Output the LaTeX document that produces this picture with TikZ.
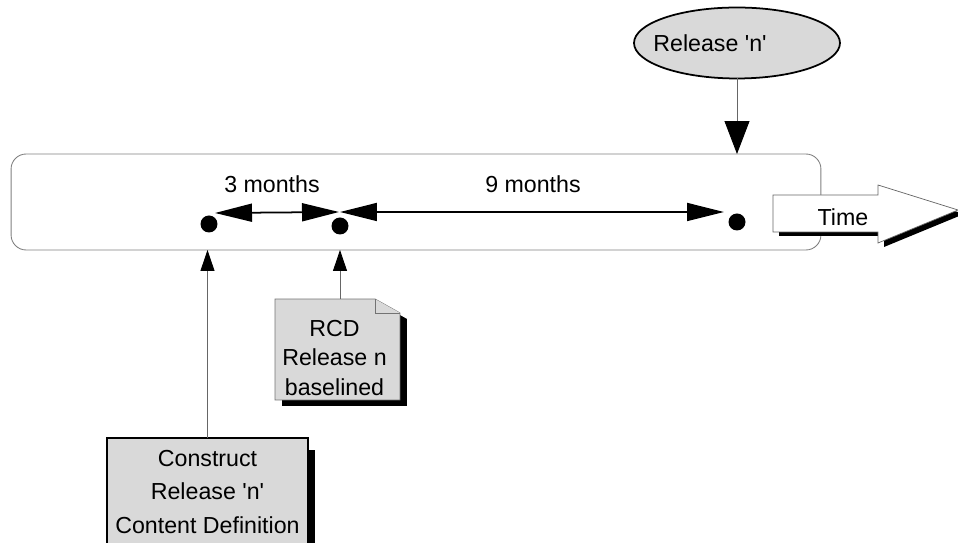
\documentclass[tikz,border=0pt]{standalone}
\usepackage{fontspec}
\setmainfont{Liberation Sans}
\usetikzlibrary{shapes,arrows,positioning,calc,arrows.meta}

\begin{document}
\begin{tikzpicture}[x=0.02cm, y=-0.02cm, outer sep=0pt,
        txt/.style={font=\fontsize{13.2}{18.8}\selectfont},
        dot/.style={circle, fill=black, minimum size=0.34cm, inner sep=0pt},
        span/.style={line width=1pt, {Triangle[length=0.74cm,width=0.36cm]}-{Triangle[length=0.74cm,width=0.36cm]}},
        feed/.style={draw=black!60, line width=0.5pt, -{Triangle[length=0.42cm,width=0.28cm,color=black]}},
        bigfeed/.style={draw=black!60, line width=0.5pt, -{Triangle[length=0.66cm,width=0.5cm,color=black]}},
        paper/.style={fill=gray!30}]
        \useasboundingbox (0,0) rectangle (958,543);

        \node [draw=black!50, line width=0.5pt, rectangle, rounded corners=0.3cm, minimum width=16.2cm, minimum height=1.92cm] (band) at (416,202) {};

        \fill [black] (779,199) -- (884,199) -- (884,189) -- (964,214) -- (884,247) -- (884,236) -- (779,236) -- cycle;
        \draw [draw=black!60, line width=0.4pt, fill=white] (773,195) -- (878,195) -- (878,185) -- (958,210) -- (878,243) -- (878,232) -- (773,232) -- cycle;
        \node [txt, anchor=base] (time) at (843,226) {Time};

        \node [dot] (d1) at (209,224) {};
        \node [dot] (d2) at (340,226) {};
        \node [dot] (d3) at (737,222) {};
        \draw [span] ($(d1)+(6,-11)$) -- ($(d2)+(-1,-14)$);
        \draw [span] ($(d2)+(0,-14)$) -- ($(d3)+(-13,-10)$);
        \node [txt, anchor=base] (three) at (272,193) {3 months};
        \node [txt, anchor=base] (nine) at (533,193) {9 months};

        \node [ellipse, draw, line width=1pt, paper, minimum width=4.12cm, minimum height=1.42cm, label={[txt, xshift=-0.54cm]center:Release \textquotesingle n\textquotesingle}] (rel) at (737,43) {};
        \draw [bigfeed] (rel.south) -- (rel.south |- band.north);

        \node [rectangle, minimum width=2.5cm, minimum height=2.02cm, inner sep=0pt] (rcd) at (337.5,349.5) {};
        \fill [black, transform canvas={xshift=0.14cm, yshift=-0.12cm}] (rcd.north west) -- ([xshift=-0.5cm]rcd.north east) -- ([yshift=-0.28cm]rcd.north east) -- (rcd.south east) -- (rcd.south west) -- cycle;
        \draw [draw=black!55, line width=0.5pt, paper] (rcd.north west) -- ([xshift=-0.5cm]rcd.north east) -- ([yshift=-0.28cm]rcd.north east) -- (rcd.south east) -- (rcd.south west) -- cycle;
        \draw [draw=black!55, line width=0.5pt, paper] ([xshift=-0.5cm]rcd.north east) -- ([xshift=-0.5cm,yshift=-0.28cm]rcd.north east) -- ([yshift=-0.28cm]rcd.north east);
        \node [txt, font=\fontsize{13.2}{17}\selectfont, align=center, yshift=-0.17cm, xshift=-0.06cm] (rcdtext) at (rcd.center) {RCD\\Release n\\baselined};
        \draw [feed] (d2 |- rcd.north) -- (d2 |- band.south);

        \node [draw=black, line width=0.8pt, rectangle, paper, minimum width=4.02cm, minimum height=2.16cm, align=center, txt] (cons) at (207.5,492) {Construct\\Release \textquotesingle n\textquotesingle\\Content Definition};
        \fill [black] ([yshift=-0.24cm]cons.north east) rectangle ([xshift=0.14cm,yshift=-0.14cm]cons.south east);
        \draw [feed] (cons.north) -- (cons.north |- band.south);
    \end{tikzpicture}
\end{document}
